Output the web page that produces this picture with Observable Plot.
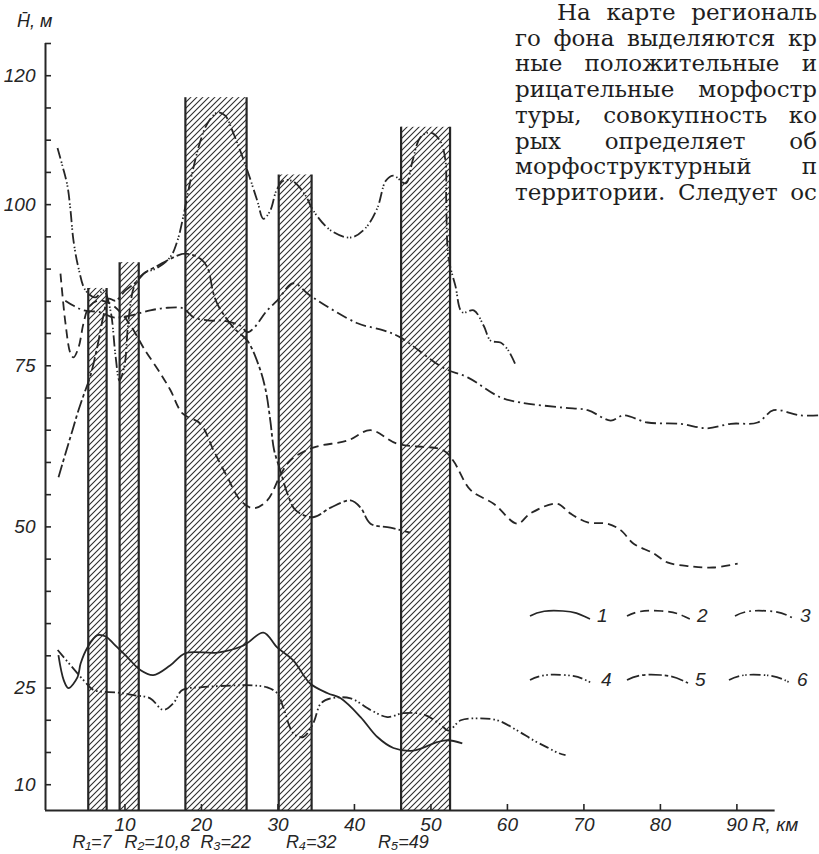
<!DOCTYPE html>
<html><head><meta charset="utf-8">
<script src="https://cdn.jsdelivr.net/npm/d3@7"></script>
<script src="https://cdn.jsdelivr.net/npm/@observablehq/plot@0.6"></script>
<style>
html,body{margin:0;padding:0;background:#fff;}
#wrap{position:relative;width:819px;height:854px;overflow:hidden;background:#fff;}
#chart{position:absolute;left:0;top:0;}
#overlay{position:absolute;left:0;top:0;pointer-events:none;}
.line{position:absolute;display:flex;justify-content:space-between;font-family:"DejaVu Serif","Liberation Serif","Noto Serif",serif;font-size:23px;color:#1e1e1e;line-height:26px;white-space:nowrap;}
#ylab{position:absolute;left:17px;top:11px;font-family:"Liberation Sans","DejaVu Sans",sans-serif;font-style:italic;font-size:18px;color:#222;}
</style>
</head><body>
<div id="wrap">
  <div id="chart"></div>
  <div id="text"></div>
  <div id="ylab">H̄, м</div>
</div>
<script>
// ---------- data ----------
// radii (km) of the highlighted zones
const rValues = [7, 10.8, 22, 32, 49];
const barStart = [5.2, 9.3, 17.9, 30.1, 46.1];
const barEnd   = [7.6, 11.8, 25.9, 34.4, 52.5];
const barTop   = [87, 91, 116.6, 104.6, 112];

// curve 1 (solid)
const s1R = [1.3, 2.0, 2.6, 3.8, 4.2, 5.1, 6.4, 7.5, 8.5, 10.3, 12.0, 13.7, 15.9, 17.9, 22.1, 25.5, 28.1, 29.9, 32.0, 34.2, 36.5, 38.2, 40.8, 43.0, 45.1, 47.7, 50.8, 52.2, 54.1];
const s1H = [30.1, 26.2, 25.0, 26.7, 28.8, 31.3, 33.2, 33.0, 31.9, 29.8, 27.8, 27.0, 28.5, 30.4, 30.5, 31.6, 33.6, 31.3, 29.3, 25.7, 24.2, 23.4, 20.5, 17.4, 15.7, 15.3, 16.6, 16.9, 16.4];

// curve 2 (dashed)
const s2R = [1.57, 2.22, 2.88, 3.27, 3.92, 4.58, 5.23, 6.41, 7.84, 9.41, 10.98, 12.42, 14.64, 15.95, 17.52, 19.87, 21.57, 23.4, 25.1, 26.8, 28.6, 30.3, 31.6, 34.6, 39.1, 42.1, 45.6, 51.6, 52.9, 55.2, 58.2, 61.3, 63.0, 66.5, 68.2, 70.5, 73.1, 74.8, 76.5, 79.1, 80.9, 83.9, 86.9, 90.1];
const s2H = [89.3, 81.6, 76.9, 76.3, 77.8, 81.6, 84.0, 85.1, 84.8, 83.3, 80.8, 77.8, 73.8, 71.2, 67.6, 66.0, 61.9, 57.7, 54.1, 52.9, 54.1, 58.0, 60.3, 62.3, 63.4, 65.0, 62.9, 61.9, 60.3, 55.7, 53.6, 50.5, 52.1, 53.6, 52.1, 50.7, 50.5, 49.5, 47.4, 45.9, 44.5, 43.9, 43.7, 44.3];

// curve 3 (dash-dot)
const s3R = [2.2, 3.3, 4.6, 6.8, 8.5, 10.7, 13.3, 15.6, 17.6, 19.0, 21.2, 22.9, 25.1, 26.0, 26.8, 28.6, 29.9, 32.0, 34.2, 40.4, 43.8, 46.0, 51.6, 54.8, 59.1, 61.7, 67.3, 70.5, 73.5, 75.2, 78.3, 82.6, 86.1, 89.2, 92.7, 94.8, 98.3, 100.8];
const s3H = [85.1, 84.3, 83.6, 83.3, 82.5, 82.8, 83.6, 84.0, 83.9, 82.5, 82.0, 82.0, 81.2, 80.2, 80.8, 83.6, 85.1, 87.8, 85.9, 81.6, 80.5, 79.4, 74.7, 73.2, 70.1, 69.3, 68.5, 68.1, 66.5, 67.3, 66.2, 66.0, 65.3, 66.0, 66.2, 68.1, 67.3, 67.3];

// curve 4 (dash-dot-dot)
const s4R = [1.2, 4.6, 5.9, 9.0, 11.1, 13.3, 15.0, 16.3, 17.5, 19.9, 24.2, 26.8, 28.6, 29.9, 30.7, 32.0, 33.3, 34.6, 35.6, 36.9, 39.5, 42.1, 44.3, 46.4, 49.0, 51.2, 52.3, 53.9, 56.1, 58.7, 61.3, 63.4, 65.2, 66.7, 67.6];
const s4H = [30.9, 26.2, 24.7, 24.3, 23.9, 23.4, 21.6, 22.6, 24.7, 25.1, 25.4, 25.4, 25.1, 24.2, 22.0, 18.0, 17.4, 19.5, 22.6, 23.4, 23.4, 21.6, 20.5, 21.1, 20.9, 19.4, 18.4, 20.0, 20.3, 20.0, 18.4, 16.9, 15.8, 14.9, 14.6];

// curve 5 (dash with ticks)
const s5R = [1.31, 2.35, 3.14, 3.79, 4.58, 5.49, 6.41, 7.19, 7.84, 8.76, 10.07, 11.37, 12.68, 14.25, 15.95, 17.9, 19.87, 20.8, 21.57, 22.2, 24.2, 26.0, 27.5, 28.4, 29.0, 29.5, 30.3, 31.2, 32.3, 34.6, 36.9, 39.5, 40.8, 42.1, 44.7, 47.3];
const s5H = [57.7, 61.9, 65.0, 67.6, 70.4, 73.5, 78.1, 82.8, 85.4, 85.1, 86.7, 87.9, 89.5, 90.5, 91.6, 92.4, 91.6, 90.2, 86.2, 84.3, 80.9, 78.9, 75.0, 71.2, 66.5, 61.9, 58.8, 55.3, 52.6, 51.5, 53.0, 54.1, 53.0, 50.5, 49.9, 49.1];

// curve 6 (dash with double ticks)
const s6R = [1.18, 1.83, 2.48, 2.88, 3.27, 3.92, 4.84, 6.14, 7.19, 8.1, 8.76, 9.28, 9.93, 10.46, 11.24, 12.42, 14.25, 15.95, 16.86, 17.65, 18.56, 19.87, 20.78, 22.09, 23.1, 24.2, 26.0, 27.3, 28.1, 29.0, 29.8, 30.7, 32.0, 33.6, 34.6, 36.9, 39.5, 41.4, 43.0, 44.1, 45.1, 46.7, 47.6, 48.6, 49.9, 51.2, 51.9, 52.0, 52.3, 53.2, 54.1, 55.6, 56.9, 57.8, 59.1, 60.1, 61.0];
const s6H = [108.8, 106.0, 102.9, 99.1, 94.4, 90.2, 86.7, 85.6, 86.7, 83.6, 76.6, 72.7, 75.0, 82.0, 87.4, 89.3, 90.2, 91.9, 94.4, 98.3, 103.7, 109.9, 112.6, 114.3, 113.8, 111.0, 105.3, 100.6, 97.8, 99.1, 102.2, 103.7, 103.6, 101.4, 99.1, 96.0, 94.9, 96.3, 99.5, 103.7, 104.5, 103.3, 106.8, 110.4, 111.2, 109.9, 106.8, 100.6, 91.8, 87.4, 83.3, 83.6, 81.2, 78.9, 78.6, 77.4, 75.3];

// axis ticks
const yTicks = d3.range(10, 126, 5);
const yTickLabels = [10, 25, 50, 75, 100, 120];
const xTicks = [10, 20, 30, 40, 50, 60, 70, 80, 90];
const xLabel = "R, км";
const legendKeys = ["1", "2", "3", "4", "5", "6"];

// paragraph text (book page)
const paraLines = [
  ["На", "карте", "региональ"],
  ["го", "фона", "выделяются", "кр"],
  ["ные", "положительные", "и"],
  ["рицательные", "морфостр"],
  ["туры,", "совокупность", "ко"],
  ["рых", "определяет", "об"],
  ["морфоструктурный", "п"],
  ["территории.", "Следует", "ос"]
];

// ---------- styles ----------
const ink = "#262626";
const dashes = {
  "1": null,
  "2": "9,5",
  "3": "11,4,2,4",
  "4": "10,3,1.6,2.6,1.6,3",
  "5": "13,3,3.5,3",
  "6": "11,3,1.4,1.8,1.4,3"
};
const xDom = [-0.39, 100.8];
const yDom = [6, 125];
const labelFont = "'Liberation Sans','DejaVu Sans',sans-serif";
const labelStyle = {fontSize: 19, fontStyle: "italic", fontFamily: labelFont, fill: ink};

const bars = rValues.map((r, i) => ({r, s: barStart[i], e: barEnd[i], top: barTop[i]}));
const series = [
  ["1", s1R, s1H], ["2", s2R, s2H], ["3", s3R, s3H],
  ["4", s4R, s4H], ["5", s5R, s5H], ["6", s6R, s6H]
];

const subs = ["₁", "₂", "₃", "₄", "₅"];
const rLabelDx = [-10, 26, 9, 18, -20];

const lineMarks = series.map(([k, R, H]) =>
  Plot.line(R.map((r, i) => ({r, h: H[i]})), {
    x: "r", y: "h", curve: "catmull-rom",
    stroke: ink, strokeWidth: 1.8,
    strokeDasharray: dashes[k] || undefined,
    strokeLinecap: "butt"
  })
);

const chart = Plot.plot({
  width: 819, height: 854,
  marginLeft: 45, marginRight: 0, marginTop: 43, marginBottom: 44,
  style: {background: "transparent", color: ink, overflow: "visible"},
  x: {domain: xDom},
  y: {domain: yDom},
  marks: [
    Plot.rect(bars, {x1: "s", x2: "e", y1: yDom[0], y2: "top", fill: "url(#hatch)"}),
    Plot.ruleX(bars, {x: "s", y1: yDom[0], y2: "top", stroke: ink, strokeWidth: 2.2}),
    Plot.ruleX(bars, {x: "e", y1: yDom[0], y2: "top", stroke: ink, strokeWidth: 2.2}),
    ...lineMarks,
    Plot.ruleX([xDom[0]], {y1: yDom[0], y2: yDom[1], stroke: ink, strokeWidth: 2}),
    Plot.ruleY([yDom[0]], {x1: xDom[0], x2: 95, stroke: ink, strokeWidth: 2}),
    Plot.axisY({ticks: yTicks, tickSize: 6, dx: 6, tickFormat: () => "", label: null, strokeWidth: 1.6}),
    Plot.text(yTickLabels, {x: xDom[0], y: d => d, text: d => String(d), dx: -10, textAnchor: "end", ...labelStyle}),
    Plot.axisX({ticks: xTicks, tickSize: 6, dy: -6, tickFormat: () => "", label: null, strokeWidth: 1.6}),
    Plot.text(xTicks, {x: d => d, y: yDom[0], text: d => String(d), dy: 14, ...labelStyle}),
    Plot.text([xLabel], {x: xTicks[xTicks.length - 1], y: yDom[0], text: d => d, dx: 15, dy: 14,
      textAnchor: "start", ...labelStyle}),
    ...rValues.map((v, i) => Plot.text([v], {
      x: d => d, y: yDom[0], text: d => `R${subs[i]}=${String(d).replace(".", ",")}`,
      dx: rLabelDx[i], dy: 32, ...labelStyle, fontSize: 18
    }))
  ]
});

// hatch pattern
const defs = d3.create("svg:defs");
const pat = defs.append("pattern").attr("id", "hatch").attr("patternUnits", "userSpaceOnUse")
  .attr("width", 6).attr("height", 6);
pat.append("path").attr("d", "M-1,1 l2,-2 M0,6 l6,-6 M5,7 l2,-2")
  .attr("stroke", "#2e2e2e").attr("stroke-width", 1.1);
chart.insertBefore(defs.node(), chart.firstChild);
document.getElementById("chart").appendChild(chart);

// legend overlay (inside the plot area, as in the original figure)
const ov = d3.select("#wrap").append("svg").attr("id", "overlay").attr("width", 819).attr("height", 854);
const legendPos = [
  {x: 530, y: 611, w: 60, nx: 597},
  {x: 627, y: 611, w: 63, nx: 697},
  {x: 735, y: 611, w: 60, nx: 800},
  {x: 530, y: 675, w: 62, nx: 601},
  {x: 627, y: 675, w: 61, nx: 695},
  {x: 729, y: 675, w: 62, nx: 797}
];
legendKeys.forEach((k, i) => {
  const p = legendPos[i], w = p.w;
  ov.append("path")
    .attr("d", `M${p.x},${p.y + 5} C${p.x + w * 0.15},${p.y} ${p.x + w * 0.3},${p.y - 1} ${p.x + w * 0.55},${p.y} S${p.x + w * 0.85},${p.y + 4} ${p.x + w},${p.y + 8}`)
    .attr("fill", "none").attr("stroke", ink).attr("stroke-width", 1.7)
    .attr("stroke-dasharray", dashes[k]);
  ov.append("text").attr("x", p.nx).attr("y", p.y + 11).text(k)
    .attr("font-family", labelFont).attr("font-style", "italic").attr("font-size", 19).attr("fill", ink);
});

// paragraph
const txt = document.getElementById("text");
paraLines.forEach((words, i) => {
  const d = document.createElement("div");
  d.className = "line";
  const left = i === 0 ? 557 : 515;
  d.style.left = left + "px";
  d.style.width = (817 - left) + "px";
  d.style.top = (-1 + i * 25.7) + "px";
  words.forEach(w => { const s = document.createElement("span"); s.textContent = w; d.appendChild(s); });
  txt.appendChild(d);
});
</script>
</body></html>
